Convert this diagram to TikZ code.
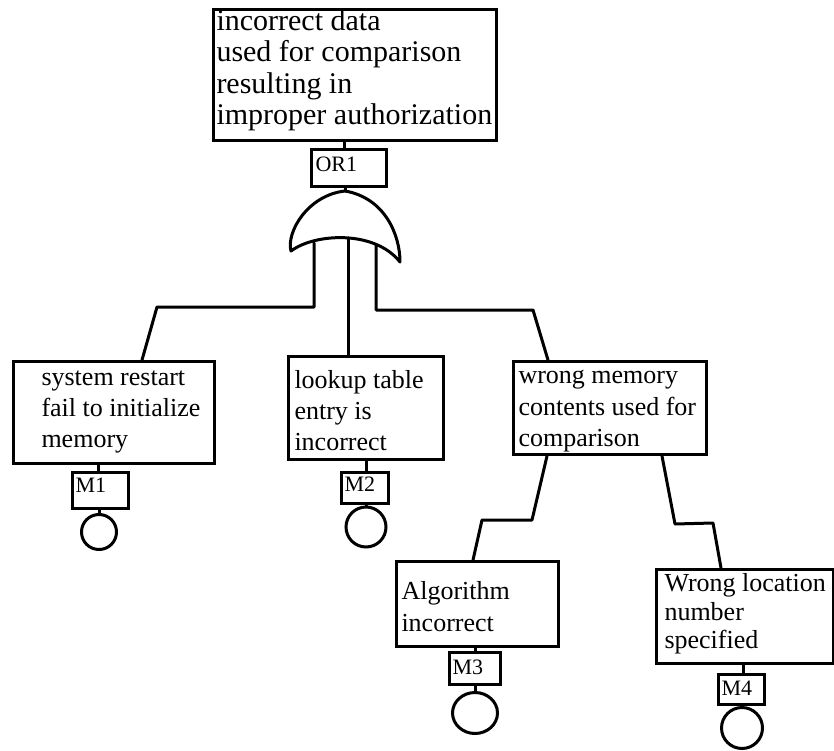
\documentclass[tikz,border=0pt]{standalone}
\usepackage{fontspec}
\setmainfont{Liberation Serif}
\usetikzlibrary{shapes.geometric}
% #1 indent, #2 height, #3 text width, #4 first baseline, #5 baselineskip, #6 font size, #7 text
\newcommand{\evbox}[7]{\hspace*{#1}\parbox[c][#2][t]{#3}{\raggedright\fontsize{#6}{#5}\selectfont\rule{0pt}{#4}#7}}
\tikzset{
  evt/.style={draw, line width=3pt, inner sep=0pt, anchor=north west},
  basic/.style={draw, line width=3pt, ellipse, inner sep=0pt},
  conn/.style={line width=3pt, line join=round, line cap=round},
  gateshape/.style={draw, line width=3pt, line join=round}
}
\begin{document}
\begin{tikzpicture}[x=1pt,y=-1pt]
\useasboundingbox (0,0) rectangle (834,751);

% event boxes
\node[evt] (top) at (212,8) {\evbox{3pt}{131pt}{280pt}{19pt}{31.5pt}{30pt}{incorrect data\\used for comparison\\resulting in\\improper authorization}};
\node[evt] (b1) at (12,360) {\evbox{28pt}{102pt}{173pt}{24pt}{31pt}{26pt}{system restart\\fail to initialize\\memory}};
\node[evt] (b2) at (287,355) {\evbox{6pt}{103pt}{149pt}{32pt}{31pt}{26pt}{lookup table\\entry is\\incorrect}};
\node[evt] (b3) at (512,360) {\evbox{5pt}{93pt}{188pt}{22pt}{31.5pt}{26pt}{wrong memory\\contents used for\\comparison}};
\node[evt] (b4) at (395,560) {\evbox{5pt}{85pt}{157pt}{38pt}{32pt}{26pt}{Algorithm\\incorrect}};
\node[evt] (b5) at (655,568) {\evbox{8pt}{94pt}{169pt}{22pt}{28.5pt}{26pt}{Wrong location\\number\\specified}};

% label boxes
\node[evt] (or1) at (310,148) {\evbox{4pt}{37pt}{71pt}{22pt}{22pt}{22pt}{OR1}};
\node[evt] (m1) at (71,471) {\evbox{3pt}{36pt}{53pt}{20pt}{22pt}{22pt}{M1}};
\node[evt] (m2) at (340,471) {\evbox{3pt}{31pt}{44pt}{19pt}{22pt}{22pt}{M2}};
\node[evt] (m3) at (448,651) {\evbox{3pt}{32pt}{48pt}{22pt}{22pt}{22pt}{M3}};
\node[evt] (m4) at (717,673) {\evbox{3pt}{30pt}{43pt}{21pt}{22pt}{22pt}{M4}};

% basic events
\node[basic, minimum width=35pt, minimum height=35pt] (c1) at (99,532) {};
\node[basic, minimum width=40pt, minimum height=40pt] (c2) at (366,527) {};
\node[basic, minimum width=45pt, minimum height=41pt] (c3) at (475,713) {};
\node[basic, minimum width=41pt, minimum height=41pt] (c4) at (742,728) {};

% OR gate
\coordinate (gt) at (345,191);
\coordinate (gtl) at (291,251);
\coordinate (gtr) at (400,262);
\draw[gateshape] (gt) .. controls (308,195) and (286,232) .. (gtl)
  .. controls (315,233) and (375,230) .. (gtr)
  .. controls (400,235) and (385,198) .. (gt) -- cycle;

% connector helper points
\coordinate (k0) at (344,0);
\coordinate (gl) at (314,243);
\coordinate (gm) at (348,238);
\coordinate (gr) at (376,245);
\coordinate (l1) at (314,307);
\coordinate (l2) at (157,307);
\coordinate (e1) at (142,0);
\coordinate (r1) at (376,310);
\coordinate (r2) at (533,310);
\coordinate (e3) at (548,0);
\coordinate (s4) at (547,0);
\coordinate (p4a) at (532,520);
\coordinate (p4b) at (482,520);
\coordinate (e4) at (473,0);
\coordinate (s5) at (662,0);
\coordinate (p5a) at (675,524);
\coordinate (p5b) at (713,523);
\coordinate (e5) at (721,0);

% connectors
\draw[conn] (k0 |- top.south) -- (k0 |- or1.north);
\draw[conn] (gt |- or1.south) -- (gt);
\draw[conn] (gl) -- (l1) -- (l2) -- (e1 |- b1.north);
\draw[conn] (gm) -- (gm |- b2.north);
\draw[conn] (gr) -- (r1) -- (r2) -- (e3 |- b3.north);
\draw[conn] (s4 |- b3.south) -- (p4a) -- (p4b) -- (e4 |- b4.north);
\draw[conn] (s5 |- b3.south) -- (p5a) -- (p5b) -- (e5 |- b5.north);

\draw[conn] (m1.north) ++(-2,0) coordinate (q1) -- (q1 |- b1.south);
\draw[conn] (c1.north) -- (c1.north |- m1.south);
\draw[conn] (m2.north) ++(1,0) coordinate (q2) -- (q2 |- b2.south);
\draw[conn] (c2.north) -- (c2.north |- m2.south);
\draw[conn] (m3.north) -- (m3.north |- b4.south);
\draw[conn] (c3.north) -- (c3.north |- m3.south);
\draw[conn] (m4.north) ++(2,0) coordinate (q4) -- (q4 |- b5.south);
\draw[conn] (c4.north) -- (c4.north |- m4.south);
\end{tikzpicture}
\end{document}
